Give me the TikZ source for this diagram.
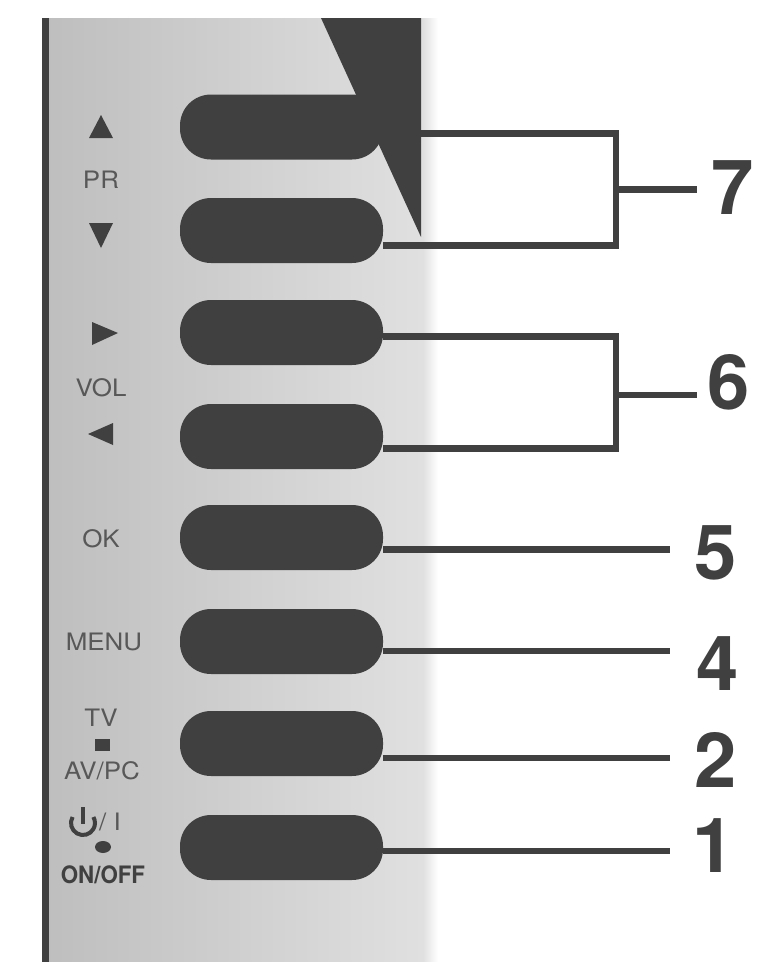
\documentclass[tikz,border=0pt]{standalone}
\usepackage{fontspec}
\setmainfont{TeX Gyre Heros}
\usetikzlibrary{positioning}
\definecolor{ink}{HTML}{404040}
\definecolor{lbl}{HTML}{585858}
\definecolor{panelL}{HTML}{BEBEBE}
\definecolor{panelR}{HTML}{E0E0E0}
\tikzset{
    btn/.style={fill=ink, rounded corners=31pt, minimum width=203pt, minimum height=65pt, inner sep=0pt},
    wire/.style={draw=ink, line width=6.5pt},
    num/.style={font=\fontsize{76}{76}\selectfont\bfseries, text=ink, inner sep=0pt},
    lab/.style={font=\fontsize{24}{26}\selectfont, text=lbl, inner sep=0pt, xscale=1.08},
}
\begin{document}
\begin{tikzpicture}[x=1pt, y=-1pt]
    \useasboundingbox (0,0) rectangle (761,962);

    \shade[left color=panelL, right color=panelR] (45,18) rectangle (423,962);
    \shade[left color=panelR, right color=white] (423,18) rectangle (438,962);
    \fill[ink] (42,18) rectangle (49,962);

    \fill[ink] (321,18) -- (421,18) -- (421,237) -- cycle;

    \node[btn] (up)   at (281.5,127) {};
    \node[btn] (down) at (281.5,230.5) {};
    \node[btn] (right) at (281.5,332.5) {};
    \node[btn] (left) at (281.5,436.5) {};
    \node[btn] (ok)   at (281.5,537.5) {};
    \node[btn] (menu) at (281.5,641.5) {};
    \node[btn] (tv)   at (281.5,743.5) {};
    \node[btn] (on)   at (281.5,847.5) {};

    \node[num] (n7) at (733,188) {7};
    \node[num] (n6) at (729,382) {6};
    \node[num] (n5) at (716,553) {5};
    \node[num] (n4) at (718,664) {4};
    \node[num] (n2) at (716,760) {2};
    \node[num] (n1) at (714,846) {1};

    \coordinate (j7) at (616,189.5);
    \coordinate (j6) at (616,395);
    \coordinate (e7) at (697,189.5);
    \coordinate (e6) at (697,395);

    \draw[wire] ([yshift=-6.5pt]up.east) -- (616,133.5) -- (616,245.5) -- ([yshift=-15pt]down.east);
    \draw[wire] (j7) -- (e7);
    \draw[wire] ([yshift=-4pt]right.east) -- (616,336.5) -- (616,448.5) -- ([yshift=-12pt]left.east);
    \draw[wire] (j6) -- (e6);
    \draw[wire] ([yshift=-12pt]ok.east) -- (670,549.5);
    \draw[wire] ([yshift=-9.5pt]menu.east) -- (670,651);
    \draw[wire] ([yshift=-14.5pt]tv.east) -- (670,758);
    \draw[wire] ([yshift=-3.5pt]on.east) -- (670,851);

    \fill[ink] (101,115) -- (113,138) -- (89,138) -- cycle;
    \node[lab] (pr) at (101,180) {PR};
    \fill[ink] (89,223) -- (113,223) -- (101,248) -- cycle;
    \fill[ink] (92,322) -- (118,333) -- (92,345) -- cycle;
    \node[lab] (vol) at (101,388) {VOL};
    \fill[ink] (113,423) -- (113,445) -- (88,434) -- cycle;
    \node[lab] (oklab) at (101,539) {OK};
    \node[lab] (menulab) at (104,642) {MENU};
    \node[lab] (tvlab) at (101,718) {TV};
    \fill[ink] (95,739) rectangle (110,751);
    \node[lab] (avlab) at (102,771) {AV/PC};
    \draw[ink, line width=4pt] (72.6,817) arc (210:-30:12);
    \draw[ink, line width=4pt] (83,807) -- (83,824);
    \node[lab, anchor=west] (offlab) at (99,822) {/ I};
    \fill[ink] (103,847) ellipse (8 and 6);
    \node[lab, font=\fontsize{24}{26}\selectfont\bfseries, text=ink, xscale=0.86] (onoff) at (103,875) {ON/OFF};
\end{tikzpicture}
\end{document}
